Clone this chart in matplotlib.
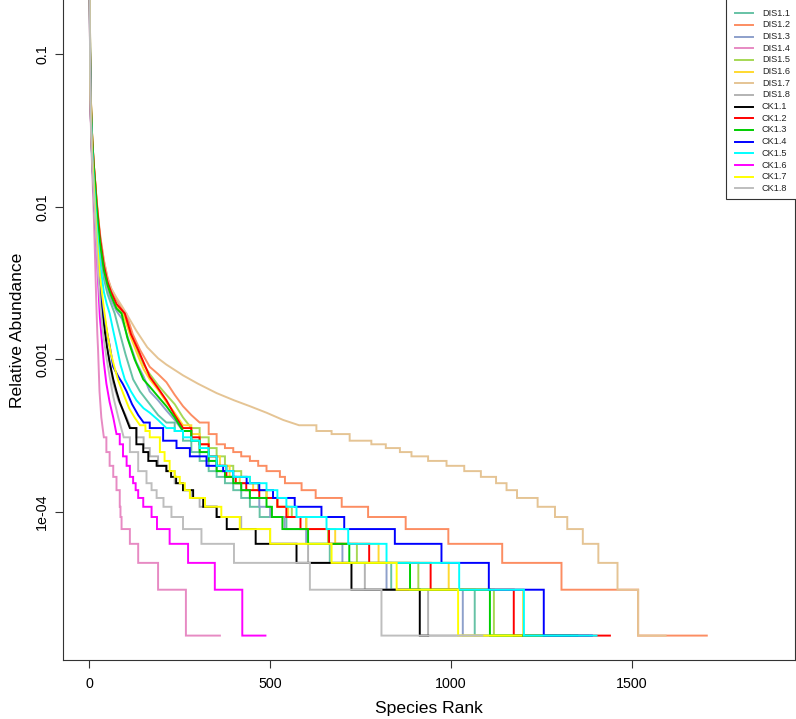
import matplotlib
matplotlib.use("Agg")
import matplotlib.pyplot as plt
from matplotlib.patches import Rectangle
from matplotlib.lines import Line2D

# ---------------- data (rank where a level starts, read count at that level) ----------------
TOTAL_READS = 65000  # relative abundance = count / TOTAL_READS

labels = ["DIS1.1", "DIS1.2", "DIS1.3", "DIS1.4", "DIS1.5", "DIS1.6", "DIS1.7", "DIS1.8",
          "CK1.1", "CK1.2", "CK1.3", "CK1.4", "CK1.5", "CK1.6", "CK1.7", "CK1.8"]
colors = ["#66C2A5", "#FC8D62", "#8DA0CB", "#E78AC3", "#A6D854", "#FFD92F", "#E5C494", "#B3B3B3",
          "#000000", "#FF0000", "#00CD00", "#0000FF", "#00FFFF", "#FF00FF", "#FFFF00", "#BEBEBE"]

DIS1_1_rank = [1, 2, 3, 5, 8, 12, 16, 20, 25, 30, 40, 50, 60, 70, 85, 100, 121, 140, 167, 190, 213, 236, 259, 282, 305, 330, 352, 375, 398, 420, 444, 471, 545, 601, 665, 835, 1066, 1290]
DIS1_1_count = [21000, 6500, 4000, 2500, 1600, 1100, 800, 560, 410, 320, 220, 175, 150, 130, 95, 70, 48, 40, 33, 28, 25, 22, 19, 16, 14, 12, 11, 10, 9, 8, 7, 6, 5, 4, 3, 2, 1, 1]

DIS1_2_rank = [1, 2, 3, 5, 8, 12, 16, 20, 25, 30, 40, 50, 60, 75, 90, 102, 120, 140, 167, 190, 213, 236, 259, 282, 305, 330, 352, 375, 398, 420, 444, 467, 490, 527, 541, 587, 626, 698, 771, 875, 993, 1142, 1306, 1518, 1708]
DIS1_2_count = [20000, 6500, 4200, 2700, 1800, 1250, 950, 720, 540, 420, 290, 225, 190, 160, 140, 130, 95, 75, 58, 52, 46, 38, 32, 28, 25, 21, 18, 17, 16, 15, 14, 13, 12, 11, 10, 9, 8, 7, 6, 5, 4, 3, 2, 1, 1]

DIS1_3_rank = [1, 2, 3, 5, 8, 12, 16, 20, 25, 30, 40, 50, 60, 75, 90, 110, 130, 150, 167, 190, 213, 236, 259, 282, 305, 330, 352, 375, 398, 420, 444, 470, 500, 540, 600, 700, 822, 1033, 1250]
DIS1_3_count = [20500, 6200, 3900, 2500, 1650, 1150, 850, 620, 450, 350, 240, 190, 160, 135, 120, 85, 62, 50, 40, 35, 30, 26, 22, 19, 16, 14, 12, 11, 10, 9, 8, 7, 6, 5, 4, 3, 2, 1, 1]

DIS1_4_rank = [1, 2, 3, 5, 8, 11, 13, 15, 17, 20, 22, 24, 28, 33, 40, 47, 56, 66, 75, 84, 86, 89, 112, 135, 190, 267, 361]
DIS1_4_count = [17000, 4500, 3000, 1800, 1100, 700, 500, 339, 230, 130, 95, 75, 40, 27, 20, 16, 13, 11, 9, 7, 6, 5, 4, 3, 2, 1, 1]

DIS1_5_rank = [1, 2, 3, 5, 8, 12, 16, 20, 25, 30, 40, 50, 60, 75, 95, 115, 135, 150, 167, 190, 213, 236, 259, 282, 305, 330, 352, 375, 398, 420, 444, 467, 490, 520, 560, 600, 660, 740, 910, 1119, 1330]
DIS1_5_count = [21500, 7000, 4400, 2800, 1800, 1250, 930, 690, 510, 390, 265, 205, 175, 145, 130, 95, 72, 60, 52, 44, 38, 33, 27, 23, 20, 17, 15, 13, 12, 11, 10, 9, 8, 7, 6, 5, 4, 3, 2, 1, 1]

DIS1_6_rank = [1, 2, 3, 5, 8, 12, 16, 20, 25, 30, 40, 50, 60, 75, 95, 115, 135, 150, 167, 190, 213, 236, 259, 282, 305, 330, 361, 388, 416, 453, 490, 520, 550, 600, 680, 800, 994, 1200, 1380]
DIS1_6_count = [21000, 6800, 4300, 2750, 1780, 1230, 920, 680, 500, 385, 260, 200, 170, 142, 125, 90, 68, 56, 48, 41, 34, 29, 24, 21, 18, 15, 13, 11, 10, 9, 8, 7, 6, 5, 4, 3, 2, 1, 1]

DIS1_7_rank = [1, 2, 3, 5, 8, 12, 16, 20, 25, 30, 40, 50, 60, 75, 90, 102, 130, 160, 190, 213, 259, 300, 352, 400, 444, 490, 536, 580, 628, 670, 720, 780, 820, 859, 891, 937, 988, 1037, 1083, 1125, 1154, 1183, 1240, 1288, 1322, 1365, 1408, 1461, 1518, 1594]
DIS1_7_count = [21000, 6500, 4200, 2700, 1800, 1250, 950, 720, 530, 410, 290, 220, 190, 165, 145, 130, 100, 78, 66, 60, 51, 45, 39, 35, 32, 29, 26, 24, 22, 21, 19, 18, 17, 16, 15, 14, 13, 12, 11, 10, 9, 8, 7, 6, 5, 4, 3, 2, 1, 1]

DIS1_8_rank = [1, 2, 3, 5, 8, 12, 16, 20, 25, 30, 38, 48, 56, 66, 80, 100, 115, 130, 150, 167, 190, 213, 236, 259, 282, 305, 352, 420, 500, 605, 762, 937, 1100]
DIS1_8_count = [18500, 5000, 3200, 2000, 1300, 850, 570, 390, 265, 185, 125, 82, 62, 45, 35, 28, 23, 20, 17, 15, 13, 12, 10, 9, 8, 7, 6, 5, 4, 3, 2, 1, 1]

CK1_1_rank = [1, 2, 3, 5, 8, 12, 16, 20, 25, 30, 38, 48, 56, 66, 75, 84, 98, 112, 130, 149, 163, 186, 213, 226, 240, 259, 287, 315, 352, 380, 460, 573, 725, 914, 937]
CK1_1_count = [18000, 5000, 3200, 2000, 1300, 850, 560, 380, 260, 180, 120, 80, 62, 48, 40, 34, 28, 23, 18, 16, 14, 13, 12, 11, 10, 9, 8, 7, 6, 5, 4, 3, 2, 1, 1]

CK1_2_rank = [1, 2, 3, 5, 8, 12, 16, 20, 25, 30, 40, 50, 60, 75, 98, 115, 135, 150, 167, 190, 213, 236, 259, 282, 305, 330, 352, 379, 405, 434, 470, 520, 545, 584, 663, 774, 944, 1174, 1440]
CK1_2_count = [22000, 7200, 4500, 2800, 1800, 1250, 950, 700, 520, 400, 270, 210, 180, 150, 130, 95, 75, 62, 50, 42, 35, 28, 23, 20, 18, 15, 13, 11, 10, 9, 8, 7, 6, 5, 4, 3, 2, 1, 1]

CK1_3_rank = [1, 2, 3, 5, 8, 12, 16, 20, 25, 30, 40, 50, 60, 75, 89, 105, 125, 149, 167, 190, 213, 236, 259, 282, 305, 330, 352, 375, 398, 420, 444, 490, 505, 534, 605, 719, 887, 1108, 1350]
CK1_3_count = [22000, 7000, 4300, 2700, 1750, 1200, 900, 650, 480, 370, 250, 200, 170, 140, 130, 90, 65, 48, 43, 37, 32, 27, 22, 19, 16, 14, 12, 11, 10, 9, 8, 7, 6, 5, 4, 3, 2, 1, 1]

CK1_4_rank = [1, 2, 3, 5, 8, 12, 16, 20, 25, 30, 35, 40, 48, 56, 66, 80, 92, 103, 118, 135, 150, 167, 204, 241, 278, 324, 370, 398, 435, 470, 508, 568, 642, 705, 845, 974, 1105, 1257, 1390]
CK1_4_count = [20000, 5500, 3400, 2100, 1400, 900, 600, 420, 300, 210, 160, 130, 100, 80, 58, 50, 45, 40, 33, 28, 25, 23, 19, 17, 15, 13, 12, 11, 10, 9, 8, 7, 6, 5, 4, 3, 2, 1, 1]

CK1_5_rank = [1, 2, 3, 5, 8, 12, 16, 20, 25, 30, 40, 48, 56, 66, 75, 86, 98, 115, 130, 150, 167, 190, 213, 236, 259, 282, 305, 330, 352, 379, 398, 444, 490, 520, 545, 573, 656, 716, 822, 1023, 1202, 1403]
CK1_5_count = [20000, 6000, 3800, 2400, 1500, 1000, 700, 500, 360, 270, 180, 150, 130, 100, 80, 60, 48, 40, 35, 31, 29, 26, 23, 22, 20, 19, 17, 15, 13, 12, 11, 10, 9, 8, 7, 6, 5, 4, 3, 2, 1, 1]

CK1_6_rank = [1, 2, 3, 5, 8, 12, 16, 20, 25, 29, 33, 40, 47, 56, 66, 75, 84, 93, 103, 112, 121, 128, 135, 149, 172, 187, 222, 273, 347, 423, 487]
CK1_6_count = [19000, 5000, 3200, 2000, 1300, 800, 550, 330, 190, 123, 95, 62, 45, 34, 27, 21, 18, 15, 13, 11, 10, 9, 8, 7, 6, 5, 4, 3, 2, 1, 1]

CK1_7_rank = [1, 2, 3, 5, 8, 12, 16, 20, 25, 30, 40, 50, 60, 70, 80, 95, 110, 125, 140, 155, 167, 195, 208, 222, 236, 250, 264, 278, 320, 365, 416, 500, 670, 850, 1020, 1195]
CK1_7_count = [19000, 5000, 3300, 2100, 1350, 900, 600, 420, 300, 220, 140, 95, 70, 57, 47, 38, 31, 27, 24, 22, 20, 16, 14, 12, 11, 10, 9, 8, 7, 6, 5, 4, 3, 2, 1, 1]

CK1_8_rank = [1, 2, 3, 5, 8, 12, 16, 20, 25, 30, 38, 48, 56, 66, 80, 95, 112, 135, 158, 172, 186, 205, 227, 259, 310, 400, 610, 808, 1087]
CK1_8_count = [18000, 4800, 3100, 1900, 1200, 780, 520, 350, 220, 150, 95, 65, 50, 37, 27, 20, 16, 12, 10, 9, 8, 7, 6, 5, 4, 3, 2, 1, 1]

series_ranks = [DIS1_1_rank, DIS1_2_rank, DIS1_3_rank, DIS1_4_rank, DIS1_5_rank, DIS1_6_rank, DIS1_7_rank, DIS1_8_rank,
                CK1_1_rank, CK1_2_rank, CK1_3_rank, CK1_4_rank, CK1_5_rank, CK1_6_rank, CK1_7_rank, CK1_8_rank]
series_counts = [DIS1_1_count, DIS1_2_count, DIS1_3_count, DIS1_4_count, DIS1_5_count, DIS1_6_count, DIS1_7_count, DIS1_8_count,
                 CK1_1_count, CK1_2_count, CK1_3_count, CK1_4_count, CK1_5_count, CK1_6_count, CK1_7_count, CK1_8_count]

yticks = [0.1, 0.01, 0.001, 1e-4]
ytick_labels = ["0.1", "0.01", "0.001", "1e-04"]
xticks = [0, 500, 1000, 1500]

STEP_BELOW = 25  # integer-count plateaus are drawn as stairs below this count


def curve_vertices(ranks, counts):
    """Vertices of the rank-abundance curve: straight segments through the
    read points in the dense head, flat plateaus + vertical drops in the tail."""
    xs, ys = [ranks[0]], [counts[0]]
    for i in range(1, len(ranks)):
        if counts[i - 1] <= STEP_BELOW:
            xs.append(ranks[i])
            ys.append(counts[i - 1])
        xs.append(ranks[i])
        ys.append(counts[i])
    return xs, [v / TOTAL_READS for v in ys]


# ---------------- figure ----------------
W, H = 796, 719
plt.rcParams['font.family'] = ['Liberation Sans', 'DejaVu Sans']
fig = plt.figure(figsize=(W / 100, H / 100), dpi=100)

ax_l, ax_r, ax_t, ax_b = 63, 795, 0, 660
ax = fig.add_axes([ax_l / W, 1 - ax_b / H, (ax_r - ax_l) / W, (ax_b - ax_t) / H])

for r, c, col in zip(series_ranks, series_counts, colors):
    xs, ys = curve_vertices(r, c)
    ax.plot(xs, ys, color=col, lw=1.4, solid_joinstyle='miter')

ax.set_yscale('log')
ax.set_xlim(-73, 1952)
ax.set_ylim(1.064e-5, 0.2278)
ax.set_xticks(xticks)
ax.set_xticklabels([str(v) for v in xticks])
ax.set_yticks(yticks)
ax.set_yticklabels(ytick_labels)
ax.minorticks_off()
ax.tick_params(axis='both', direction='out', length=5.5, width=0.8, labelsize=10.3, color='#333333')
ax.tick_params(axis='x', pad=7)
ax.tick_params(axis='y', pad=4.5)
for lab in ax.get_yticklabels():
    lab.set_rotation(90)
    lab.set_va('center')
for s in ['left', 'bottom', 'right']:
    ax.spines[s].set_color('#333333')
    ax.spines[s].set_linewidth(0.8)
ax.spines['top'].set_visible(False)

fig.text(429 / W, 1 - 709 / H, "Species Rank", ha='center', va='center', fontsize=12.6)
fig.text(18 / W, 1 - 330 / H, "Relative Abundance", ha='center', va='center', rotation=90, fontsize=12.6)

# ---------------- legend (R style, top right) ----------------
leg_l, leg_r, leg_t, leg_b = 726, 797, -5, 199
fig.patches.append(Rectangle((leg_l / W, 1 - leg_b / H), (leg_r - leg_l) / W, (leg_b - leg_t) / H,
                             transform=fig.transFigure, facecolor='white', edgecolor='#333333',
                             linewidth=0.8, zorder=5))
for i, (lab, col) in enumerate(zip(labels, colors)):
    yy = 1 - (13.3 + i * 11.67) / H
    fig.lines.append(Line2D([735 / W, 753 / W], [yy, yy], transform=fig.transFigure,
                            color=col, lw=1.4, zorder=6))
    fig.text(762 / W, yy, lab, ha='left', va='center', fontsize=6.6, color='#222222', zorder=6)

fig.savefig("out.png", dpi=100)
